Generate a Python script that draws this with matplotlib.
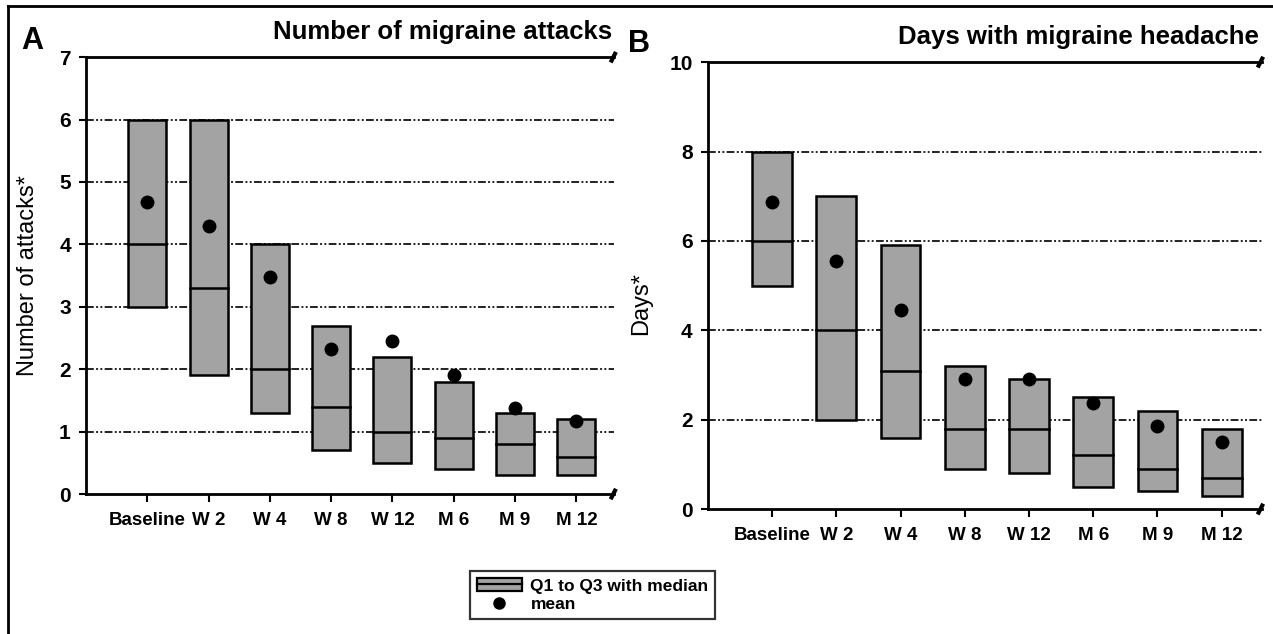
import numpy as np
import matplotlib.pyplot as plt
from matplotlib.patches import Rectangle
from matplotlib.lines import Line2D

plt.rcParams['font.family'] = ['Liberation Sans', 'DejaVu Sans']
plt.rcParams['font.weight'] = 'bold'

# data
visits = ["Baseline", "W 2", "W 4", "W 8", "W 12", "M 6", "M 9", "M 12"]

attacks_q1 = [3.0, 1.9, 1.3, 0.7, 0.5, 0.4, 0.3, 0.3]
attacks_q3 = [6.0, 6.0, 4.0, 2.7, 2.2, 1.8, 1.3, 1.2]
attacks_med = [4.0, 3.3, 2.0, 1.4, 1.0, 0.9, 0.8, 0.6]
attacks_mean = [4.68, 4.3, 3.48, 2.33, 2.45, 1.9, 1.38, 1.17]

days_q1 = [5.0, 2.0, 1.6, 0.9, 0.8, 0.5, 0.4, 0.3]
days_q3 = [8.0, 7.0, 5.9, 3.2, 2.9, 2.5, 2.2, 1.8]
days_med = [6.0, 4.0, 3.1, 1.8, 1.8, 1.2, 0.9, 0.7]
days_mean = [6.88, 5.54, 4.45, 2.9, 2.9, 2.38, 1.86, 1.51]

BOX_C = "#a3a3a3"
W = 0.62


def panel(ax, q1, q3, med, mean, ymax, yticks, title, ylabel):
    x = np.arange(len(visits))
    for yt in yticks[1:-1]:
        ax.axhline(yt, color="#222222", lw=1.4, ls=(0, (4, 1.2, 1, 1.2, 1, 1.2)), zorder=1)
    for i in x:
        ax.add_patch(Rectangle((i - W / 2, q1[i]), W, q3[i] - q1[i], facecolor=BOX_C,
                               edgecolor="black", lw=1.8, zorder=2))
        ax.plot([i - W / 2, i + W / 2], [med[i], med[i]], color="black", lw=1.8, zorder=3)
    ax.plot(x, mean, "o", color="black", ms=9, zorder=4)
    ax.set_xlim(-1, 7.62)
    ax.set_ylim(0, ymax)
    ax.set_xticks(x)
    ax.set_xticklabels(visits, fontsize=13.5)
    ax.set_yticks(yticks)
    ax.tick_params(axis="y", labelsize=15, length=5, width=1.5, pad=6)
    ax.tick_params(axis="x", length=6, width=1.5, pad=7)
    for s in ["left", "top", "bottom"]:
        ax.spines[s].set_linewidth(2)
    ax.spines["right"].set_visible(False)
    # break marks at the right ends
    for yy in (0, 1):
        ax.plot([0.993, 1.003], [yy - 0.012, yy + 0.012], transform=ax.transAxes,
                color="black", lw=3, clip_on=False, solid_capstyle="butt")
    ax.set_ylabel(ylabel, fontsize=17, fontweight="normal")
    ax.text(0.995, 1.03, title, transform=ax.transAxes, ha="right", va="bottom",
            fontsize=18.5)


fig = plt.figure(figsize=(12.73, 6.34), dpi=100)
axA = fig.add_axes([0.0676, 0.2208, 0.415, 0.689])
axB = fig.add_axes([0.556, 0.197, 0.435, 0.705])

panel(axA, attacks_q1, attacks_q3, attacks_med, attacks_mean, 7, range(0, 8),
      "Number of migraine attacks", "Number of attacks*")
panel(axB, days_q1, days_q3, days_med, days_mean, 10, range(0, 11, 2),
      "Days with migraine headache", "Days*")
axA.yaxis.set_label_coords(-0.09, 0.5)
axB.yaxis.set_label_coords(-0.1, 0.46)

fig.text(0.017, 0.935, "A", fontsize=22, ha="left", va="center")
fig.text(0.493, 0.93, "B", fontsize=22, ha="left", va="center")

# outer frame lines
fig.add_artist(Line2D([0.006, 0.006], [0, 0.99], color="black", lw=2))
fig.add_artist(Line2D([0.006, 1.0], [0.99, 0.99], color="black", lw=2))

# legend: box with median line, and mean dot
box_h = Rectangle((0, 0), 1, 1, facecolor=BOX_C, edgecolor="black", lw=1.6)
med_h = Line2D([], [], color="black", lw=1.6)
dot_h = Line2D([], [], marker="o", color="black", ls="none", ms=8)
leg = fig.legend([(box_h, med_h), dot_h], ["Q1 to Q3 with median", "mean"],
                 loc="center", bbox_to_anchor=(0.4655, 0.0615), fontsize=12.5,
                 frameon=True, fancybox=False, edgecolor="black",
                 handlelength=2.6, handleheight=0.8, labelspacing=0.15,
                 borderpad=0.4, handletextpad=0.5)
leg.get_frame().set_linewidth(1.6)

fig.savefig("out.png", dpi=100)
